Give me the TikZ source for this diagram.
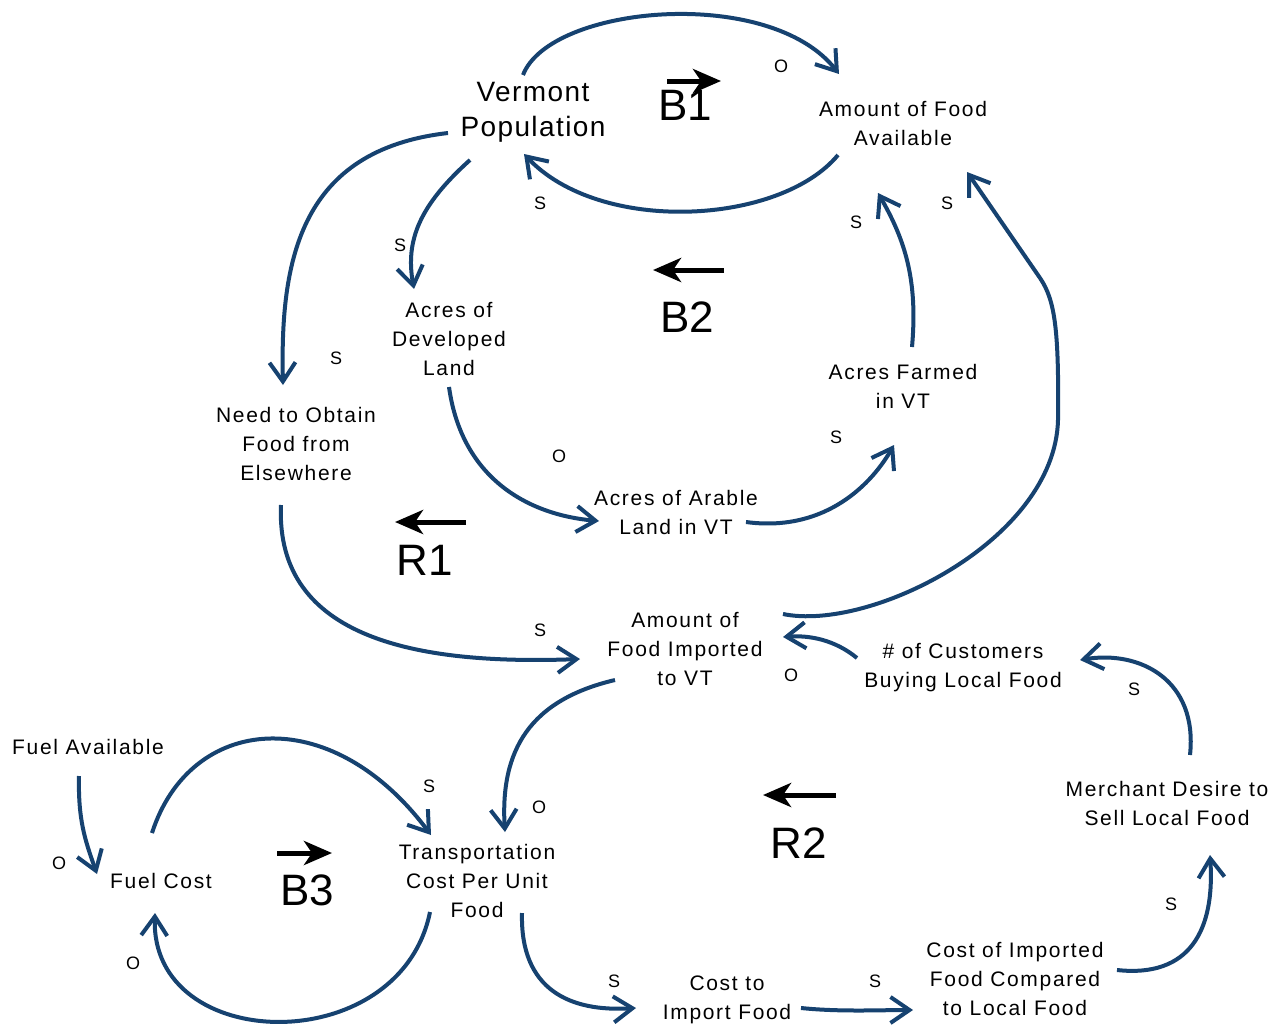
\documentclass[tikz,border=0pt]{standalone}
\usepackage{fontspec}
\setmainfont{Liberation Sans}
\newfontfamily\lblfont[LetterSpace=8]{Liberation Sans}
\newfontfamily\vpfont[LetterSpace=5]{Liberation Sans}
\usetikzlibrary{arrows.meta}
\definecolor{linkblue}{RGB}{22,66,112}
\begin{document}
\begin{tikzpicture}[x=1pt,y=-1pt,
  var/.style={font=\lblfont\fontsize{21}{29}\selectfont, align=center, inner sep=0pt, text=black},
  pol/.style={font=\fontsize{18}{20}\selectfont, inner sep=0pt, text=black},
  loopname/.style={font=\fontsize{44}{44}\selectfont, inner sep=0pt},
  link/.style={draw=linkblue, line width=4pt, -{Straight Barb[length=19pt,width=26pt]}},
  loopdir/.style={draw=black, line width=5pt, -{Stealth[length=28pt,width=24pt,inset=8pt]}}]
\useasboundingbox (0,0) rectangle (1274,1028);
\fill[white] (0,0) rectangle (1274,1028);

% variables
\node[var, font=\vpfont\fontsize{28}{35}\selectfont] (vp) at (533,112) {Vermont\\Population};
\node[var] (afa) at (903,123) {Amount of Food\\Available};
\node[var] (adl) at (449,339) {Acres of\\Developed\\Land};
\node[var] (afv) at (903,386) {Acres Farmed\\in VT};
\node[var] (nof) at (296,444) {Need to Obtain\\Food from\\Elsewhere};
\node[var] (aal) at (676,512) {Acres of Arable\\Land in VT};
\node[var] (afi) at (685,649) {Amount of\\Food Imported\\to VT};
\node[var] (ncb) at (963,668) {\# of Customers\\Buying Local Food};
\node[var] (fa) at (88,747) {Fuel Available};
\node[var] (fc) at (161,881) {Fuel Cost};
\node[var] (tc) at (477,881) {Transportation\\Cost Per Unit\\Food};
\node[var] (md) at (1167,803) {Merchant Desire to\\Sell Local Food};
\node[var] (cti) at (727,1000) {Cost to\\Import Food};
\node[var] (cif) at (1015,979) {Cost of Imported\\Food Compared\\to Local Food};

% loop names and directions
\node[loopname] (b1) at (685,105) {B1};
\node[loopname] (b2) at (687,317) {B2};
\node[loopname] (r1) at (425,560) {R1};
\node[loopname] (b3) at (307,890) {B3};
\node[loopname] (r2) at (799,843) {R2};
\coordinate (b1a) at (667,81);  \coordinate (b1b) at (721,81);
\coordinate (b2a) at (724,270); \coordinate (b2b) at (653,270);
\coordinate (r1a) at (466,522); \coordinate (r1b) at (395,522);
\coordinate (b3a) at (277,853); \coordinate (b3b) at (332,853);
\coordinate (r2a) at (836,795); \coordinate (r2b) at (763,795);
\draw[loopdir] (b1a) -- (b1b);
\draw[loopdir] (b2a) -- (b2b);
\draw[loopdir] (r1a) -- (r1b);
\draw[loopdir] (b3a) -- (b3b);
\draw[loopdir] (r2a) -- (r2b);

% connector end points
\coordinate (vp-afa-1) at (523,75);   \coordinate (vp-afa-2) at (839,74);
\coordinate (afa-vp-1) at (838,155);  \coordinate (afa-vp-2) at (524,154);
\coordinate (vp-nof-1) at (448,133);  \coordinate (vp-nof-2) at (283,385);
\coordinate (vp-adl-1) at (470,160);  \coordinate (vp-adl-2) at (414,289);
\coordinate (adl-aal-1) at (449,387); \coordinate (adl-aal-2) at (599,521);
\coordinate (aal-afv-1) at (746,522); \coordinate (aal-afv-2) at (894,445);
\coordinate (afv-afa-1) at (912,347); \coordinate (afv-afa-2) at (878,193);
\coordinate (afi-afa-1) at (783,614); \coordinate (afi-afa-2) at (967,172);
\coordinate (nof-afi-1) at (281,505); \coordinate (nof-afi-2) at (580,659);
\coordinate (ncb-afi-1) at (857,658); \coordinate (ncb-afi-2) at (783,637);
\coordinate (md-ncb-1) at (1190,755); \coordinate (md-ncb-2) at (1080,660);
\coordinate (cif-md-1) at (1117,970); \coordinate (cif-md-2) at (1210,855);
\coordinate (cti-cif-1) at (801,1008);\coordinate (cti-cif-2) at (913,1010);
\coordinate (tc-cti-1) at (522,913);  \coordinate (tc-cti-2) at (636,1008);
\coordinate (afi-tc-1) at (615,680);  \coordinate (afi-tc-2) at (505,832);
\coordinate (fa-fc-1) at (79,776);    \coordinate (fa-fc-2) at (97,874);
\coordinate (fc-tc-1) at (152,833);   \coordinate (fc-tc-2) at (431,835);
\coordinate (tc-fc-1) at (430,912);   \coordinate (tc-fc-2) at (155,913);

% connectors
\draw[link] (vp-afa-1) .. controls (550,5) and (770,-15) .. (vp-afa-2);
\draw[link] (afa-vp-1) .. controls (780,225) and (600,235) .. (afa-vp-2);
\draw[link] (vp-nof-1) .. controls (300,150) and (280,260) .. (vp-nof-2);
\draw[link] (vp-adl-1) .. controls (420,205) and (405,240) .. (vp-adl-2);
\draw[link] (adl-aal-1) .. controls (462,480) and (530,515) .. (adl-aal-2);
\draw[link] (aal-afv-1) .. controls (820,532) and (868,490) .. (aal-afv-2);
\draw[link] (afv-afa-1) .. controls (918,280) and (905,240) .. (afv-afa-2);
\draw[link] (afi-afa-1) .. controls (870,632) and (1055,540) .. (1058,420)
  .. controls (1059,330) and (1055,300) .. (1040,278) -- (afi-afa-2);
\draw[link] (nof-afi-1) .. controls (275,640) and (420,665) .. (nof-afi-2);
\draw[link] (ncb-afi-1) .. controls (835,640) and (810,635) .. (ncb-afi-2);
\draw[link] (md-ncb-1) .. controls (1198,680) and (1140,650) .. (md-ncb-2);
\draw[link] (cif-md-1) .. controls (1190,978) and (1215,930) .. (cif-md-2);
\draw[link] (cti-cif-1) .. controls (840,1012) and (880,1010) .. (cti-cif-2);
\draw[link] (tc-cti-1) .. controls (520,990) and (570,1012) .. (tc-cti-2);
\draw[link] (afi-tc-1) .. controls (530,700) and (500,750) .. (afi-tc-2);
\draw[link] (fa-fc-1) .. controls (78,820) and (85,840) .. (fa-fc-2);
\draw[link] (fc-tc-1) .. controls (190,715) and (330,700) .. (fc-tc-2);
\draw[link] (tc-fc-1) .. controls (400,1060) and (150,1055) .. (tc-fc-2);

% polarity labels
\node[pol] (p1) at (781,66) {O};
\node[pol] (p2) at (540,203) {S};
\node[pol] (p3) at (947,203) {S};
\node[pol] (p4) at (856,222) {S};
\node[pol] (p5) at (400,245) {S};
\node[pol] (p6) at (336,358) {S};
\node[pol] (p7) at (559,456) {O};
\node[pol] (p8) at (836,437) {S};
\node[pol] (p9) at (540,630) {S};
\node[pol] (p10) at (791,675) {O};
\node[pol] (p11) at (1134,689) {S};
\node[pol] (p12) at (429,786) {S};
\node[pol] (p13) at (539,807) {O};
\node[pol] (p14) at (59,863) {O};
\node[pol] (p15) at (133,963) {O};
\node[pol] (p16) at (614,981) {S};
\node[pol] (p17) at (875,981) {S};
\node[pol] (p18) at (1171,904) {S};
\end{tikzpicture}
\end{document}
